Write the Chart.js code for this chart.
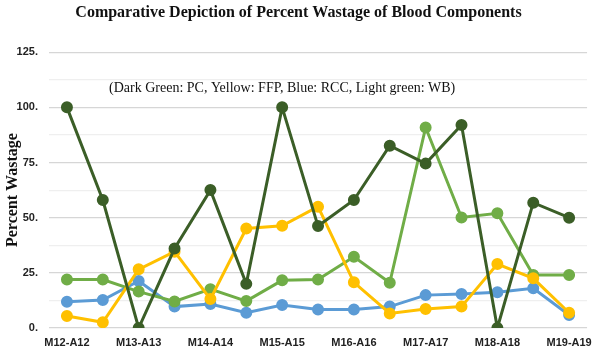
<!DOCTYPE html>
<html>
<head>
<meta charset="utf-8">
<script src="https://cdn.jsdelivr.net/npm/chart.js@4"></script>
<style>
  body { margin: 0; background: #fff; }
  canvas { display: block; }
</style>
</head>
<body>
<canvas id="chart" width="600" height="352"></canvas>
<script>
// 15 periods, only every other one is labelled on the axis
let xlabels = ['M12-A12', '', 'M13-A13', '', 'M14-A14', '', 'M15-A15', '', 'M16-A16', '', 'M17-A17', '', 'M18-A18', '', 'M19-A19']
let pcData  = [100, 58, 0, 36, 62.5, 20, 100, 46.2, 58, 82.6, 74.5, 92, 0, 56.8, 50]
let ffpData = [5.4, 2.6, 26.6, 34.6, 13.1, 45.1, 46.3, 55, 20.7, 6.6, 8.6, 9.7, 29, 22.5, 6.9]
let rccData = [11.9, 12.7, 21.3, 9.7, 10.9, 6.9, 10.4, 8.4, 8.4, 9.7, 14.9, 15.4, 16.2, 18, 5.9]
let wbData  = [22, 22, 16.5, 12, 17.6, 12.2, 21.6, 22, 32.3, 20.5, 90.9, 50.1, 52, 24, 24]
let yTicks = [0, 25, 50, 75, 100, 125]
let note = '(Dark Green: PC, Yellow: FFP, Blue: RCC, Light green: WB)'

function series(label, data, color) {
    return {
        label: label,
        data: data,
        borderColor: color,
        backgroundColor: color,
        pointBackgroundColor: color,
        pointBorderColor: color,
        borderWidth: 3,
        pointRadius: 4.5,
        tension: 0,
        fill: false
    }
}

// the colour key is written inside the plot, centred over the 7th period
const notePlugin = {
    id: 'note',
    afterDatasetsDraw(chart) {
        const c = chart.ctx
        const x = chart.scales.x.getPixelForValue(6)
        const y = chart.scales.y.getPixelForValue(108.7)
        c.save()
        c.font = '14px "Liberation Serif", "Times New Roman", serif'
        c.fillStyle = '#111'
        c.textAlign = 'center'
        c.textBaseline = 'middle'
        c.fillText(note, x, y)
        c.restore()
    }
}

var ctx = document.getElementById('chart').getContext('2d')

var myChart = new Chart(ctx, {
    type: 'line',
    data: {
        labels: xlabels,
        datasets: [
            series('PC', pcData, '#3b5e27'),
            series('FFP', ffpData, '#ffc000'),
            series('WB', wbData, '#70ad47'),
            series('RCC', rccData, '#5b9bd5')
        ]
    },
    options: {
        responsive: false,
        animation: false,
        layout: { padding: { top: 3, left: 5, right: 8, bottom: 2 } },
        plugins: {
            legend: { display: false },
            tooltip: { enabled: false },
            title: {
                display: true,
                text: 'Comparative Depiction of Percent Wastage of Blood Components',
                color: '#111',
                font: { family: '"Liberation Serif", "Times New Roman", serif', size: 16, weight: 'bold' },
                padding: { top: 0, bottom: 30 }
            }
        },
        scales: {
            x: {
                offset: true,
                grid: { display: false, drawTicks: false },
                border: { display: false },
                afterFit: (s) => { s.height = 22 },
                ticks: {
                    autoSkip: false,
                    maxRotation: 0,
                    padding: 8,
                    color: '#222',
                    font: { family: '"Liberation Sans", Arial, sans-serif', size: 11, weight: 'bold' }
                }
            },
            y: {
                min: 0,
                max: 125,
                border: { display: false },
                afterFit: (s) => { s.width = 44 },
                grid: {
                    drawTicks: false,
                    lineWidth: 1.2,
                    color: (c) => yTicks.includes(c.tick.value) ? '#d6d6d6' : '#efefef'
                },
                ticks: {
                    stepSize: 12.5,
                    padding: 11,
                    color: '#222',
                    font: { family: '"Liberation Sans", Arial, sans-serif', size: 11, weight: 'bold' },
                    callback: (v) => yTicks.includes(v) ? v + '.' : ''
                },
                title: {
                    display: true,
                    text: 'Percent Wastage',
                    color: '#111',
                    font: { family: '"Liberation Serif", "Times New Roman", serif', size: 16, weight: 'bold', lineHeight: 1 },
                    padding: { top: 0, bottom: 0 }
                }
            }
        }
    },
    plugins: [notePlugin]
})
</script>
</body>
</html>
